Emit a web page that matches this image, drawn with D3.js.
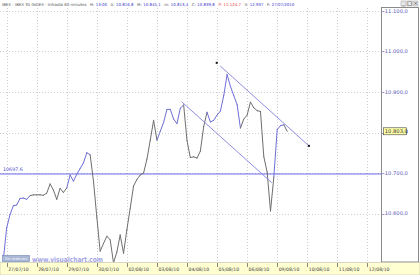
<!DOCTYPE html>
<html>
<head>
<meta charset="utf-8">
<script src="https://cdn.jsdelivr.net/npm/d3@7"></script>
<style>
  body { margin: 0; background: #fff; }
  svg { display: block; font-family: "DejaVu Sans", Verdana, sans-serif; }
</style>
</head>
<body>
<script>
// hourly closes, IBEX 35, 26/07 17:00 .. 09/08 12:00
const closes = [
  10485, 10564, 10597, 10619, 10621, 10637, 10638, 10635, 10644, 10646,
  10646, 10646, 10645, 10650, 10673, 10658, 10635, 10662, 10652, 10663,
  10695, 10680, 10697, 10711, 10725, 10750, 10745, 10680, 10591, 10507,
  10526, 10544, 10535, 10478, 10505, 10547, 10502, 10560, 10613, 10668,
  10684, 10695, 10700, 10734, 10781, 10830, 10781, 10803, 10825, 10857,
  10857, 10833, 10822, 10860, 10868, 10780, 10738, 10740, 10737, 10754,
  10815, 10850, 10826, 10830, 10843, 10853, 10891, 10943, 10914, 10891,
  10869, 10811, 10833, 10843, 10875, 10861, 10854, 10852, 10740, 10702,
  10606, 10690, 10807, 10817, 10819, 10803
];
// bar ranges drawn in the "up" colour
const upRanges = [[0, 8], [19, 26], [46, 54], [61, 71], [81, 84]];

const dayLabels = ["27/07/10", "28/07/10", "29/07/10", "30/07/10", "02/08/10", "03/08/10",
  "04/08/10", "05/08/10", "06/08/10", "09/08/10", "10/08/10", "11/08/10", "12/08/10"];
const barsPerDay = 9;
const yTicks = [11100, 11000, 10900, 10800, 10700, 10600];
const level = 10697.6;
const lastValue = 10803.0;
// trend channel: [index, value] anchors
const upperTrend = [[63.9, 10972], [91.5, 10767]];
const lowerTrend = [[53.4, 10876], [80.4, 10676]];

// header: [text, kind]
const header = [
  ["IBEX - IBEX 35 INDEX - Intradia 60 minutos", "lab"],
  ["H:", "lab"], ["13:00", "val"],
  ["A:", "lab"], ["10.816,8", "val"],
  ["M:", "lab"], ["10.845,1", "val"],
  ["m:", "lab"], ["10.813,4", "val"],
  ["C:", "lab"], ["10.839,8", "val"],
  ["P:", "red"], ["11.124,7", "red"],
  ["V:", "lab"], ["12.937", "val"],
  ["F:", "lab"], ["27/07/2010", "val"]
];
const headColor = { lab: "#555", val: "#3535c8", red: "#e03030" };

const W = 420, H = 275;
const plotL = 0, plotR = 381, plotT = 8, plotB = 262;

const svg = d3.select("body").append("svg").attr("width", W).attr("height", H);

const x = d3.scaleLinear().domain([0, closes.length - 1]).range([3.3, 287.2]);
const y = d3.scaleLinear().domain([10600, 11100]).range([213.5, 11]);
const fmt = d3.formatLocale({ decimal: ",", thousands: ".", grouping: [3] }).format(",.1f");

svg.append("defs").append("clipPath").attr("id", "plot")
  .append("rect").attr("x", plotL).attr("y", plotT)
  .attr("width", plotR - plotL).attr("height", plotB - plotT);

// header: lay items out left to right, then scale the font to fit the reference width
const hg = svg.append("g");
const hItems = hg.selectAll("text").data(header).enter().append("text")
  .attr("y", 5.5).attr("fill", d => headColor[d[1]]).text(d => d[0]);
function layoutHeader(fs) {
  let cx = 2;
  hItems.attr("font-size", fs).each(function (d, i) {
    if (i) cx += (d[1] === "lab" || i === 11) ? fs * 0.9 : fs * 0.35;
    d3.select(this).attr("x", cx);
    cx += this.getComputedTextLength();
  });
  return cx - 2;
}
const hw = layoutHeader(4.4);
layoutHeader(4.4 * 292 / hw);

// window buttons
const btn = svg.append("g").attr("transform", "translate(401,1)");
["_", "□", "×"].forEach((s, i) => {
  btn.append("rect").attr("x", i * 6).attr("y", 0).attr("width", 5).attr("height", 5)
    .attr("fill", "#e8e8e8").attr("stroke", "#999").attr("stroke-width", 0.5);
  btn.append("text").attr("x", i * 6 + 2.5).attr("y", 4.3).attr("text-anchor", "middle")
    .attr("font-size", 5).attr("fill", "#333").text(s);
});

const plot = svg.append("g").attr("clip-path", "url(#plot)");

// grid
plot.selectAll(".hg").data(yTicks).enter().append("line")
  .attr("x1", plotL).attr("x2", plotR)
  .attr("y1", d => Math.round(y(d)) + 0.5).attr("y2", d => Math.round(y(d)) + 0.5)
  .attr("stroke", "#cfcfcf").attr("stroke-dasharray", "1,2");
plot.selectAll(".vg").data(dayLabels).enter().append("line")
  .attr("x1", (d, i) => Math.round(x(1 + i * barsPerDay)) + 0.5)
  .attr("x2", (d, i) => Math.round(x(1 + i * barsPerDay)) + 0.5)
  .attr("y1", plotT).attr("y2", plotB)
  .attr("stroke", "#cfcfcf").attr("stroke-dasharray", "1,2");

// level line
plot.append("line").attr("x1", plotL).attr("x2", plotR)
  .attr("y1", y(level)).attr("y2", y(level))
  .attr("stroke", "#6a6af0").attr("stroke-width", 1);
svg.append("text").attr("x", 3).attr("y", y(level) - 2.5)
  .attr("font-size", 4.8).attr("fill", "#4a4ac8").text(String(level));

// price line, segment by segment
const isUp = i => upRanges.some(r => i >= r[0] && i < r[1]);
const segs = d3.range(closes.length - 1).map(i => ({ i, a: closes[i], b: closes[i + 1] }));
plot.selectAll(".seg").data(segs).enter().append("line")
  .attr("x1", d => x(d.i)).attr("y1", d => y(d.a))
  .attr("x2", d => x(d.i + 1)).attr("y2", d => y(d.b))
  .attr("stroke", d => isUp(d.i) ? "#6e6ed6" : "#6e6e6e")
  .attr("stroke-width", 1).attr("stroke-linecap", "round");

// trend channel
const tline = d3.line().x(d => x(d[0])).y(d => y(d[1]));
const upSlope = (upperTrend[1][1] - upperTrend[0][1]) / (upperTrend[1][0] - upperTrend[0][0]);
const upperDrawn = [[upperTrend[0][0] + 1, upperTrend[0][1] + upSlope], upperTrend[1]];
plot.append("path").attr("d", tline(upperDrawn)).attr("fill", "none")
  .attr("stroke", "#8080e0").attr("stroke-width", 0.9);
plot.append("path").attr("d", tline(lowerTrend)).attr("fill", "none")
  .attr("stroke", "#8080e0").attr("stroke-width", 0.9);
plot.selectAll(".dot").data(upperTrend).enter().append("rect")
  .attr("x", d => x(d[0]) - 1).attr("y", d => y(d[1]) - 1)
  .attr("width", 2).attr("height", 2).attr("fill", "#111");

// right axis box
svg.append("rect").attr("x", 381.5).attr("y", 7.5).attr("width", 37).attr("height", 254.5)
  .attr("fill", "#fff").attr("stroke", "#8a8a8a").attr("stroke-width", 1);
const ax = svg.append("g");
ax.selectAll("line").data(yTicks).enter().append("line")
  .attr("x1", 382).attr("x2", 384.5)
  .attr("y1", d => Math.round(y(d)) + 0.5).attr("y2", d => Math.round(y(d)) + 0.5)
  .attr("stroke", "#5a5ab0").attr("stroke-width", 0.6);
ax.selectAll("text").data(yTicks).enter().append("text")
  .attr("x", 384.8).attr("y", d => y(d) + 1.8)
  .attr("font-size", 5.2).attr("fill", "#5a5ab8")
  .text(d => fmt(d));

// last value tag
svg.append("rect").attr("x", 383.5).attr("y", y(lastValue) - 3.5).attr("width", 23).attr("height", 7)
  .attr("fill", "#ffffa8").attr("stroke", "#444").attr("stroke-width", 0.6);
svg.append("text").attr("x", 384.8).attr("y", y(lastValue) + 1.8)
  .attr("font-size", 5.2).attr("fill", "#333").text(fmt(lastValue));

// bottom strip
svg.append("rect").attr("x", 0).attr("y", 262.5).attr("width", W).attr("height", 12.5)
  .attr("fill", "#ffffd2").attr("stroke", "#b0b0a0").attr("stroke-width", 0.5);
const xa = svg.append("g");
xa.selectAll("line").data(dayLabels).enter().append("line")
  .attr("x1", (d, i) => Math.round(x(1 + i * barsPerDay)) + 0.5)
  .attr("x2", (d, i) => Math.round(x(1 + i * barsPerDay)) + 0.5)
  .attr("y1", 263).attr("y2", 267)
  .attr("stroke", "#555").attr("stroke-width", 0.7);
xa.selectAll("text").data(dayLabels).enter().append("text")
  .attr("x", (d, i) => x(1 + i * barsPerDay) + 1.5).attr("y", 270.5)
  .attr("font-size", 4.6).attr("fill", "#444").text(d => d);

// order button and watermark
svg.append("rect").attr("x", 2.5).attr("y", 255.5).attr("width", 27).attr("height", 6)
  .attr("fill", "#a9b7d6").attr("stroke", "#6f84b4").attr("stroke-width", 0.6);
svg.append("text").attr("x", 16).attr("y", 260.2).attr("text-anchor", "middle")
  .attr("font-size", 3.8).attr("fill", "#f4f6ff").text("Sin órdenes");
svg.append("text").attr("x", 32).attr("y", 261.5)
  .attr("font-size", 7).attr("font-weight", "bold").attr("fill", "#a4a4e4")
  .attr("textLength", 71).attr("lengthAdjust", "spacingAndGlyphs")
  .text("www.visualchart.com");
</script>
</body>
</html>
